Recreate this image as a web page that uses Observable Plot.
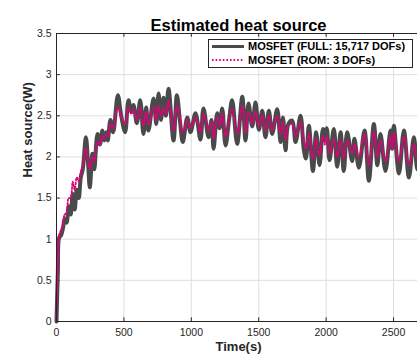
<!DOCTYPE html>
<html><head><meta charset="utf-8">
<script src="https://cdn.jsdelivr.net/npm/d3@7"></script>
<script src="https://cdn.jsdelivr.net/npm/@observablehq/plot@0.6"></script>
<style>
html,body{margin:0;padding:0;overflow:hidden;background:#fff;}
#chart svg{max-width:none !important;}
</style></head><body><div id="chart"></div>
<script>
const times = [0,10,20,35,50,60,75,90,105,120,135,150,165,180,195,218,235,247,267,280,304,322,341,355,370,380,400,420,455,480,509,534,555,571,596,621,645,665,682,720,740,757,775,794,812,831,868,893,915,937,970,994,1031,1068,1090,1128,1150,1165,1192,1210,1229,1254,1280,1303,1340,1378,1402,1424,1452,1476,1501,1526,1550,1575,1600,1637,1662,1680,1699,1720,1749,1773,1810,1835,1850,1872,1902,1926,1951,1976,1990,2005,2025,2057,2082,2107,2131,2156,2193,2210,2243,2285,2317,2354,2380,2403,2440,2477,2490,2502,2540,2577,2614,2651,2676,2700];
const fullValues = [0,0.6,1.02,1.05,1.15,1.25,1.2,1.4,1.3,1.55,1.36,1.6,1.5,1.75,1.85,2.24,1.9,1.63,2.04,1.85,2.28,2.15,2.32,2.2,2.3,2.2,2.45,2.3,2.75,2.5,2.3,2.69,2.55,2.63,2.41,2.69,2.28,2.6,2.32,2.71,2.4,2.77,2.45,2.72,2.5,2.83,2.2,2.75,2.45,2.18,2.48,2.3,2.53,2.21,2.59,2.24,2.45,2.1,2.53,2.35,2.59,2.14,2.45,2.69,2.16,2.73,2.2,2.65,2.37,2.66,2.33,2.56,2.24,2.56,2.28,2.58,2.18,2.48,2.08,2.4,2.44,2.18,2.5,2.08,1.98,2.38,1.83,2.3,1.9,2.34,2.2,2.35,1.96,2.34,1.88,2.3,1.83,2.3,1.95,2.22,1.87,2.32,1.71,2.4,1.9,2.28,1.83,2.32,2.1,2.38,1.8,2.32,1.75,2.24,1.85,2.1];
const romValues = [0,0.7,1.05,1.12,1.2,1.3,1.32,1.5,1.5,1.7,1.6,1.75,1.7,1.82,1.9,2.1,1.95,1.85,2.0,1.95,2.18,2.15,2.25,2.22,2.28,2.25,2.4,2.35,2.6,2.5,2.4,2.6,2.52,2.57,2.45,2.6,2.38,2.55,2.4,2.6,2.45,2.62,2.5,2.6,2.52,2.68,2.32,2.62,2.48,2.3,2.45,2.35,2.48,2.3,2.52,2.32,2.43,2.22,2.48,2.38,2.52,2.25,2.45,2.58,2.28,2.62,2.3,2.55,2.4,2.55,2.38,2.5,2.32,2.5,2.33,2.5,2.28,2.42,2.2,2.38,2.4,2.25,2.42,2.2,2.1,2.28,1.98,2.22,2.02,2.25,2.15,2.25,2.05,2.22,2.0,2.2,1.98,2.2,2.05,2.15,2.0,2.28,1.9,2.3,2.0,2.2,1.95,2.25,2.1,2.3,1.95,2.25,1.9,2.15,1.95,2.05];
const xTicks = [0,500,1000,1500,2000,2500];
const xTickLabels = ["0","500","1000","1500","2000","2500"];
const yTicks = [0,0.5,1,1.5,2,2.5,3,3.5];
const yTickLabels = ["0","0.5","1","1.5","2","2.5","3","3.5"];
const seriesNames = ["MOSFET (FULL: 15,717 DOFs)", "MOSFET (ROM: 3 DOFs)"];
const seriesColors = ["#4a4a4a", "#e0007a"];
const titleText = "Estimated heat source";
const xLabel = "Time(s)";
const yLabel = "Heat source(W)";

const full = times.map((t, i) => ({t, v: fullValues[i]}));
const rom = times.map((t, i) => ({t, v: romValues[i]}));
const font = "'Liberation Sans', Arial, Helvetica, sans-serif";

const plot = Plot.plot({
  width: 430, height: 359,
  marginLeft: 56, marginRight: 10, marginTop: 33, marginBottom: 38,
  style: {fontFamily: font, fontSize: "10.5px", color: "#262626", background: "#fff", overflow: "visible", maxWidth: "none"},
  x: {domain: [0, 2700], ticks: xTicks, tickSize: 0, tickPadding: 7, label: null, tickFormat: d => xTickLabels[xTicks.indexOf(d)]},
  y: {domain: [0, 3.5], ticks: yTicks, tickSize: 0, tickPadding: 5, label: null, tickFormat: d => yTickLabels[yTicks.indexOf(d)]},
  marks: [
    Plot.ruleX(xTicks, {stroke: "#dfdfdf", strokeWidth: 1}),
    Plot.ruleY(yTicks, {stroke: "#dfdfdf", strokeWidth: 1}),
    Plot.ruleX(xTicks, {y1: 0, y2: 0.045, stroke: "#262626"}),
    Plot.ruleX(xTicks, {y1: 3.455, y2: 3.5, stroke: "#262626"}),
    Plot.ruleY(yTicks, {x1: 0, x2: 28, stroke: "#262626"}),
    Plot.line(full, {x: "t", y: "v", stroke: seriesColors[0], strokeWidth: 4, curve: "catmull-rom"}),
    Plot.line(rom, {x: "t", y: "v", stroke: seriesColors[1], strokeWidth: 1.8, strokeDasharray: "1.6,2", curve: "catmull-rom"}),
    Plot.frame({stroke: "#262626", strokeWidth: 1}),
    Plot.text([titleText], {frameAnchor: "top", dy: -14, fontSize: 16.5, fontWeight: "bold", fill: "#000", text: d => d}),
    Plot.text([xLabel], {frameAnchor: "bottom", dy: 29, fontSize: 13, fontWeight: "bold", fill: "#262626", text: d => d}),
    Plot.text([yLabel], {frameAnchor: "left", dx: -29, rotate: -90, fontSize: 13, fontWeight: "bold", fill: "#262626", text: d => d})
  ]
});
document.getElementById("chart").appendChild(plot);

// legend box
const svg = d3.select(plot);
const lg = svg.append("g").attr("font-family", font).attr("font-size", "11px").attr("font-weight", "bold").attr("text-anchor", "start");
lg.append("rect").attr("x", 208.5).attr("y", 39.5).attr("width", 204).attr("height", 28).attr("fill", "#fff").attr("stroke", "#262626").attr("stroke-width", 1);
const rows = [46.5, 60];
seriesNames.forEach((name, i) => {
  const y = rows[i];
  const l = lg.append("line").attr("x1", 212).attr("x2", 244).attr("y1", y).attr("y2", y).attr("stroke", seriesColors[i]);
  if (i === 0) l.attr("stroke-width", 3);
  else l.attr("stroke-width", 1.8).attr("stroke-dasharray", "1.6,2");
  lg.append("text").attr("x", 248).attr("y", y).attr("dy", "0.35em").attr("text-anchor", "start").attr("fill", "#000").text(name);
});
</script></body></html>
